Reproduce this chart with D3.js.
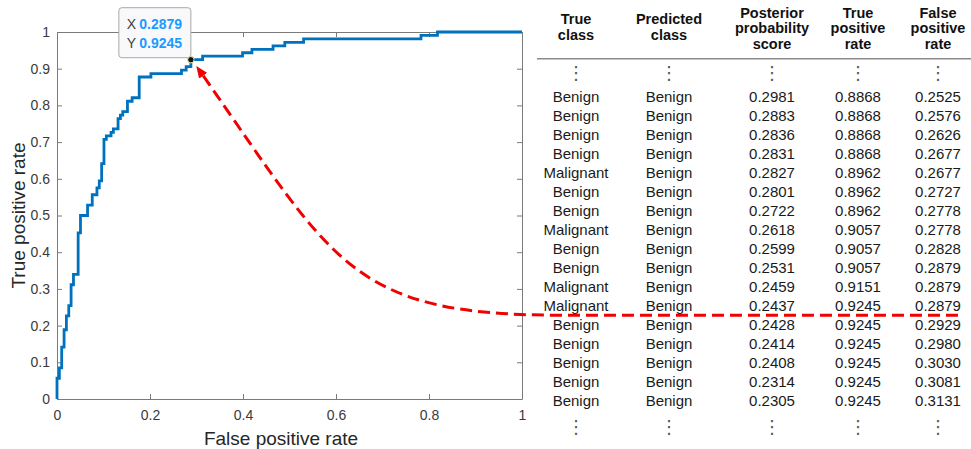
<!DOCTYPE html>
<html>
<head>
<meta charset="utf-8">
<script src="https://cdn.jsdelivr.net/npm/d3@7"></script>
<style>
  html, body { margin: 0; padding: 0; background: #ffffff; }
  svg { display: block; }
</style>
</head>
<body>
<script>
// ROC curve vertices: each step moves right to the FPR, then up to the TPR
const rocFPR = [0, 0, 0.0051, 0.0101, 0.0152, 0.0202, 0.0253, 0.0303, 0.0354, 0.0455,
  0.0505, 0.0657, 0.0758, 0.0859, 0.0909, 0.0960, 0.1010, 0.1061, 0.1162, 0.1212,
  0.1313, 0.1364, 0.1414, 0.1515, 0.1616, 0.1768, 0.2020, 0.2677, 0.2778, 0.2879,
  0.3131, 0.3990, 0.4192, 0.4646, 0.4899, 0.5303, 0.7828, 0.8182, 1.0000];
const rocTPR = [0, 0.0566, 0.0849, 0.1415, 0.1887, 0.2264, 0.2547, 0.3113, 0.3396, 0.4528,
  0.5000, 0.5283, 0.5566, 0.5755, 0.5943, 0.6415, 0.7075, 0.7170, 0.7264, 0.7358,
  0.7642, 0.7736, 0.7830, 0.8113, 0.8208, 0.8774, 0.8868, 0.8962, 0.9057, 0.9245,
  0.9340, 0.9434, 0.9528, 0.9623, 0.9717, 0.9811, 0.9906, 1.0000, 1.0000];

// Highlighted operating point
const tipFPR = 0.2879;
const tipTPR = 0.9245;

// Axis ticks
const xTickValues = [0, 0.2, 0.4, 0.6, 0.8, 1];
const xTickLabels = ["0", "0.2", "0.4", "0.6", "0.8", "1"];
const yTickValues = [0, 0.1, 0.2, 0.3, 0.4, 0.5, 0.6, 0.7, 0.8, 0.9, 1];
const yTickLabels = ["0", "0.1", "0.2", "0.3", "0.4", "0.5", "0.6", "0.7", "0.8", "0.9", "1"];

// Threshold table
const tableHeaders = [
  ["True", "class"],
  ["Predicted", "class"],
  ["Posterior", "probability", "score"],
  ["True", "positive", "rate"],
  ["False", "positive", "rate"]
];
const trueClass = ["Benign", "Benign", "Benign", "Benign", "Malignant", "Benign", "Benign",
  "Malignant", "Benign", "Benign", "Malignant", "Malignant", "Benign", "Benign", "Benign",
  "Benign", "Benign"];
const predictedClass = ["Benign", "Benign", "Benign", "Benign", "Benign", "Benign", "Benign",
  "Benign", "Benign", "Benign", "Benign", "Benign", "Benign", "Benign", "Benign",
  "Benign", "Benign"];
const scores = [0.2981, 0.2883, 0.2836, 0.2831, 0.2827, 0.2801, 0.2722, 0.2618, 0.2599,
  0.2531, 0.2459, 0.2437, 0.2428, 0.2414, 0.2408, 0.2314, 0.2305];
const tprColumn = [0.8868, 0.8868, 0.8868, 0.8868, 0.8962, 0.8962, 0.8962, 0.9057, 0.9057,
  0.9057, 0.9151, 0.9245, 0.9245, 0.9245, 0.9245, 0.9245, 0.9245];
const fprColumn = [0.2525, 0.2576, 0.2626, 0.2677, 0.2677, 0.2727, 0.2778, 0.2778, 0.2828,
  0.2879, 0.2879, 0.2879, 0.2929, 0.2980, 0.3030, 0.3081, 0.3131];
// number of rows above the selected threshold
const splitRow = 12;

const FONT = "'Liberation Sans', Arial, Helvetica, sans-serif";
const W = 971, H = 449;

const svg = d3.select("body").append("svg")
  .attr("width", W).attr("height", H)
  .attr("viewBox", `0 0 ${W} ${H}`);

// ---------- ROC axes ----------
const x = d3.scaleLinear().domain([0, 1]).range([57, 522]);
const y = d3.scaleLinear().domain([0, 1]).range([399, 32]);

const axisColor = "#7a7a7a";
const tickText = "#3a3a3a";

function styleAxis(g) {
  g.attr("font-family", FONT).attr("font-size", 14);
  g.select(".domain").attr("stroke", axisColor);
  g.selectAll(".tick line").attr("stroke", axisColor);
  g.selectAll(".tick text").attr("fill", tickText);
}

svg.append("g")
  .attr("transform", `translate(0,${y(0)})`)
  .call(d3.axisBottom(x).tickValues(xTickValues)
    .tickFormat((d, i) => xTickLabels[i])
    .tickSizeInner(-5).tickSizeOuter(0).tickPadding(11))
  .call(styleAxis);

svg.append("g")
  .attr("transform", `translate(0,${y(1)})`)
  .call(d3.axisTop(x).tickValues(xTickValues).tickFormat("")
    .tickSizeInner(-5).tickSizeOuter(0))
  .call(styleAxis);

svg.append("g")
  .attr("transform", `translate(${x(0)},0)`)
  .call(d3.axisLeft(y).tickValues(yTickValues)
    .tickFormat((d, i) => yTickLabels[i])
    .tickSizeInner(-5).tickSizeOuter(0).tickPadding(7))
  .call(styleAxis);

svg.append("g")
  .attr("transform", `translate(${x(1)},0)`)
  .call(d3.axisRight(y).tickValues(yTickValues).tickFormat("")
    .tickSizeInner(-5).tickSizeOuter(0))
  .call(styleAxis);

// axis titles
svg.append("text")
  .attr("x", 281).attr("y", 445)
  .attr("text-anchor", "middle")
  .attr("font-family", FONT).attr("font-size", 19)
  .attr("fill", "#262626")
  .text("False positive rate");

svg.append("text")
  .attr("transform", `translate(25,${(y(0) + y(1)) / 2}) rotate(-90)`)
  .attr("text-anchor", "middle")
  .attr("font-family", FONT).attr("font-size", 19)
  .attr("fill", "#262626")
  .text("True positive rate");

// ---------- ROC curve ----------
const rocPoints = rocFPR.map((f, i) => [f, rocTPR[i]]);
svg.append("path")
  .datum(rocPoints)
  .attr("fill", "none")
  .attr("stroke", "#0072BD")
  .attr("stroke-width", 2.8)
  .attr("stroke-linejoin", "miter")
  .attr("d", d3.line().x(d => x(d[0])).y(d => y(d[1])).curve(d3.curveStepAfter));

// ---------- data tip ----------
const px = x(tipFPR), py = y(tipTPR);
const tip = svg.append("g");
tip.append("rect")
  .attr("x", px - 72).attr("y", py - 52)
  .attr("width", 72).attr("height", 50)
  .attr("rx", 3).attr("ry", 3)
  .attr("fill", "#f9f9fb")
  .attr("stroke", "#a8a8a8").attr("stroke-width", 1);
[["X", tipFPR, py - 30.4], ["Y", tipTPR, py - 12]].forEach(([lab, v, by]) => {
  tip.append("text")
    .attr("x", px - 64.2).attr("y", by)
    .attr("font-family", FONT).attr("font-size", 14)
    .attr("fill", "#404040")
    .text(lab);
  tip.append("text")
    .attr("x", px - 51.6).attr("y", by)
    .attr("font-family", FONT).attr("font-size", 14).attr("font-weight", "bold")
    .attr("fill", "#1a9bff")
    .text(v.toFixed(4));
});
tip.append("circle")
  .attr("cx", px).attr("cy", py).attr("r", 3.2)
  .attr("fill", "#151515")
  .attr("stroke", "#ece4a8").attr("stroke-width", 1);

// ---------- table ----------
const colX = [576, 669, 772, 858, 938];
const nRows = scores.length;
const rowY = d3.scaleLinear().domain([0, nRows - 1]).range([96.7, 400.7]);
const rowStep = rowY(1) - rowY(0);

const table = svg.append("g").attr("font-family", FONT);

// headers
tableHeaders.forEach((lines, c) => {
  const lineGap = 15.5;
  const center = lines.length === 3 ? 28 : 27;
  const top = center - (lines.length - 1) * lineGap / 2;
  lines.forEach((ln, k) => {
    table.append("text")
      .attr("x", colX[c]).attr("y", top + k * lineGap + 5.2)
      .attr("text-anchor", "middle")
      .attr("font-size", 14.5).attr("font-weight", "bold")
      .attr("fill", "#111")
      .text(ln);
  });
});

// header rule
table.append("line")
  .attr("x1", 537).attr("x2", W).attr("y1", 58.5).attr("y2", 58.5)
  .attr("stroke", "#8c8c8c").attr("stroke-width", 1);
table.append("line")
  .attr("x1", 537).attr("x2", W).attr("y1", 59.5).attr("y2", 59.5)
  .attr("stroke", "#c4c4c4").attr("stroke-width", 1);

// ellipsis rows
[rowY(0) - 25, rowY(nRows - 1) + 25].forEach(cy => {
  colX.forEach(cx => {
    table.append("text")
      .attr("x", cx).attr("y", cy + 7)
      .attr("text-anchor", "middle")
      .attr("font-family", "'DejaVu Sans', sans-serif")
      .attr("font-size", 18)
      .attr("fill", "#555")
      .text("⋮");
  });
});

// body rows
const rowsData = d3.range(nRows).map(i => [
  trueClass[i], predictedClass[i], scores[i].toFixed(4),
  tprColumn[i].toFixed(4), fprColumn[i].toFixed(4)
]);
rowsData.forEach((cells, i) => {
  cells.forEach((t, c) => {
    table.append("text")
      .attr("x", colX[c]).attr("y", rowY(i) + 5.3)
      .attr("text-anchor", "middle")
      .attr("font-size", 15)
      .attr("fill", "#1a1a1a")
      .text(t);
  });
});

// ---------- curved dashed arrow from the table split to the data tip ----------
const lineY = rowY(splitRow) - rowStep / 2;
const dir = [0.574, 0.819];             // direction leaving the arrow tip
const tipPt = [px + 6, py + 7];
const base = [tipPt[0] + dir[0] * 11, tipPt[1] + dir[1] * 11];
const c1 = [base[0] + dir[0] * 228, base[1] + dir[1] * 228];
const c2 = [350, lineY];
const joinPt = [560, lineY];

svg.append("defs").append("marker")
  .attr("id", "redHead")
  .attr("markerUnits", "userSpaceOnUse")
  .attr("viewBox", "0 0 12 10")
  .attr("refX", 0).attr("refY", 5)
  .attr("markerWidth", 12).attr("markerHeight", 10)
  .attr("orient", "auto-start-reverse")
  .append("path")
  .attr("d", "M0,0 L12,5 L0,10 Z")
  .attr("fill", "#f00000");

const arrowPath = d3.path();
arrowPath.moveTo(base[0], base[1]);
arrowPath.bezierCurveTo(c1[0], c1[1], c2[0], c2[1], joinPt[0], joinPt[1]);
arrowPath.lineTo(962, lineY);

svg.append("path")
  .attr("d", arrowPath.toString())
  .attr("fill", "none")
  .attr("stroke", "#f00000")
  .attr("stroke-width", 3)
  .attr("stroke-dasharray", "12,6")
  .attr("marker-start", "url(#redHead)");
</script>
</body>
</html>
